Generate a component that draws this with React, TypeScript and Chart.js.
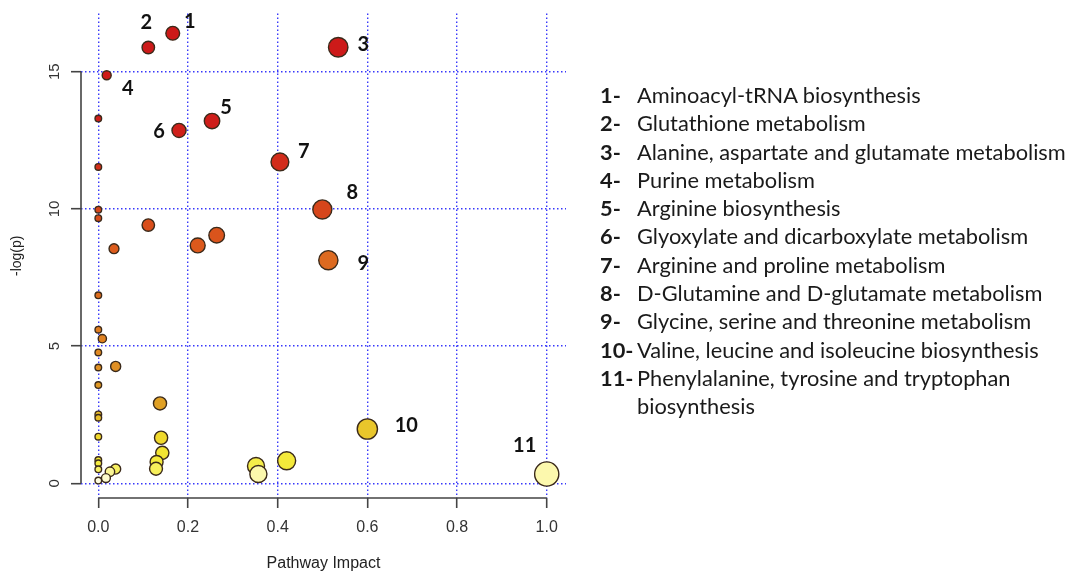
import React, { useEffect, useRef } from 'react';
import { Chart, registerables } from 'chart.js';
Chart.register(...registerables);

// ---- data (descending -log(p); later points drawn on top) ----
const impact = [
  0.166, 0.535, 0.1115, 0.0187, 0.0, 0.2536, 0.18, 0.405, 0.0, 0.4996,
  0.0, 0.0, 0.1115, 0.264, 0.2217, 0.035, 0.513, 0.0, 0.0, 0.009,
  0.0, 0.0387, 0.0, 0.0, 0.1376, 0.0, 0.0, 0.6, 0.0, 0.14,
  0.1427, 0.0, 0.42, 0.13, 0.0, 0.3517, 0.1287, 0.0387, 0.0, 0.026,
  1.0, 0.357, 0.017, 0.0,
];
const negLogP = [
  16.40, 15.89, 15.88, 14.87, 13.29, 13.20, 12.86, 11.71, 11.53, 9.98,
  9.97, 9.66, 9.41, 9.04, 8.67, 8.55, 8.13, 6.85, 5.60, 5.27,
  4.77, 4.26, 4.22, 3.58, 2.91, 2.51, 2.39, 1.98, 1.70, 1.66,
  1.11, 0.85, 0.82, 0.78, 0.73, 0.63, 0.53, 0.52, 0.51, 0.42,
  0.34, 0.34, 0.19, 0.10,
];
const pointLabels = [
  '1', '3', '2', '4', '', '5', '6', '7', '', '8',
  '', '', '', '', '', '', '9', '', '', '',
  '', '', '', '', '', '', '', '10', '', '',
  '', '', '', '', '', '', '', '', '', '',
  '11', '', '', '',
];
const xTicks = [0, 0.2, 0.4, 0.6, 0.8, 1.0];
const yTicks = [0, 5, 10, 15];
const xTitle = 'Pathway Impact';
const yTitle = '-log(p)';
const pathwayNumbers = ['1-', '2-', '3-', '4-', '5-', '6-', '7-', '8-', '9-', '10-', '11-'];
const pathwayNames = [
  'Aminoacyl-tRNA biosynthesis',
  'Glutathione metabolism',
  'Alanine, aspartate and glutamate metabolism',
  'Purine metabolism',
  'Arginine biosynthesis',
  'Glyoxylate and dicarboxylate metabolism',
  'Arginine and proline metabolism',
  'D-Glutamine and D-glutamate metabolism',
  'Glycine, serine and threonine metabolism',
  'Valine, leucine and isoleucine biosynthesis',
  'Phenylalanine, tyrosine and tryptophan biosynthesis',
];

// ---- styling ----
const heatStops: [number, string][] = [
  [0, '#fffff2'], [0.2, '#fdfbcc'], [0.4, '#fbf6a0'], [0.55, '#f6ee50'],
  [0.9, '#f3e833'], [1.7, '#f0d82c'], [2.0, '#e9c52b'], [2.5, '#e8bc2a'],
  [2.9, '#e0a024'], [4.3, '#e09024'], [5.5, '#df7e20'], [6.9, '#de6c1e'],
  [8.2, '#dd6a20'], [8.6, '#dc5a1c'], [10, '#d6461b'], [11.7, '#d22c1a'],
  [13, '#cf1e1a'], [17, '#cc1818'],
];
const labelOffsets: Record<string, [number, number]> = {
  '1': [17, -12], '2': [-2, -25], '3': [25, -3], '4': [21, 13], '5': [14, -14],
  '6': [-20, 1], '7': [24, -10], '8': [30, -17], '9': [35, 3], '10': [39, -3], '11': [-22, -28],
};

function hexToRgb(h: string) {
  return [parseInt(h.slice(1, 3), 16), parseInt(h.slice(3, 5), 16), parseInt(h.slice(5, 7), 16)];
}
function heatColor(v: number) {
  if (v <= heatStops[0][0]) return heatStops[0][1];
  for (let i = 1; i < heatStops.length; i++) {
    if (v <= heatStops[i][0]) {
      const [v0, c0] = heatStops[i - 1];
      const [v1, c1] = heatStops[i];
      const t = (v - v0) / (v1 - v0);
      const a = hexToRgb(c0), b = hexToRgb(c1);
      const m = a.map((x, k) => Math.round(x + (b[k] - x) * t));
      return `rgb(${m[0]},${m[1]},${m[2]})`;
    }
  }
  return heatStops[heatStops.length - 1][1];
}

const AXIS_FONT = "'Liberation Sans', Arial, sans-serif";
const LEG_FONT = "Lato, 'Open Sans', sans-serif";

const overlayPlugin = {
  id: 'overlay',
  afterDraw(chart: any) {
    const ctx = chart.ctx;
    const xs = chart.scales.x;
    const ys = chart.scales.y;
    ctx.save();
    // R-style axis lines spanning first..last tick
    ctx.strokeStyle = '#444';
    ctx.lineWidth = 1.6;
    ctx.beginPath();
    ctx.moveTo(xs.getPixelForValue(xTicks[0]), xs.top);
    ctx.lineTo(xs.getPixelForValue(xTicks[xTicks.length - 1]), xs.top);
    ctx.moveTo(ys.right, ys.getPixelForValue(yTicks[0]));
    ctx.lineTo(ys.right, ys.getPixelForValue(yTicks[yTicks.length - 1]));
    ctx.stroke();
    // point annotations
    const meta = chart.getDatasetMeta(0);
    ctx.font = `bold 20px ${LEG_FONT}`;
    ctx.fillStyle = '#111';
    ctx.textAlign = 'center';
    ctx.textBaseline = 'middle';
    pointLabels.forEach((lab, i) => {
      if (!lab) return;
      const el = meta.data[i];
      const off = labelOffsets[lab] || [0, 0];
      ctx.fillText(lab, el.x + off[0], el.y + off[1]);
    });
    ctx.restore();
  },
};

export default function App() {
  const ref = useRef<HTMLCanvasElement | null>(null);
  useEffect(() => {
    if (!ref.current) return;
    const chart = new Chart(ref.current, {
      type: 'scatter',
      data: {
        datasets: [
          {
            data: impact.map((x, i) => ({ x, y: negLogP[i] })),
            backgroundColor: (c: any) => heatColor(c.raw ? c.raw.y : 0),
            borderColor: '#3b2a1a',
            borderWidth: 1.4,
            pointRadius: (c: any) => 3.3 + 8.8 * Math.sqrt(c.raw ? c.raw.x : 0),
            pointHoverRadius: (c: any) => 3.3 + 8.8 * Math.sqrt(c.raw ? c.raw.x : 0),
          },
        ],
      },
      options: {
        responsive: false,
        animation: false,
        devicePixelRatio: 1,
        layout: { padding: { left: 0, top: 13, right: 503, bottom: 0 } },
        plugins: { legend: { display: false }, tooltip: { enabled: false } },
        scales: {
          x: {
            type: 'linear',
            min: -0.0386,
            max: 1.043,
            afterBuildTicks: (s: any) => { s.ticks = xTicks.map((v) => ({ value: v })); },
            afterFit: (s: any) => { s.height = 74; s.paddingLeft = 0; s.paddingRight = 0; },
            border: { display: false, dash: [1.5, 2.5] },
            grid: {
              color: 'rgba(45,45,250,0.95)',
              lineWidth: 1.4,
              tickColor: '#444',
              tickWidth: 1.6,
              tickLength: 10,
              tickBorderDash: [],
            },
            ticks: {
              color: '#333',
              padding: 10,
              font: { family: AXIS_FONT, size: 16 },
              callback: (v: any) => Number(v).toFixed(1),
              maxRotation: 0,
              minRotation: 0,
            },
            title: {
              display: true,
              text: xTitle,
              color: '#222',
              font: { family: AXIS_FONT, size: 16, lineHeight: 1.1 },
              padding: { top: 0, bottom: 0 },
            },
          },
          y: {
            type: 'linear',
            min: -0.535,
            max: 17.12,
            afterBuildTicks: (s: any) => { s.ticks = yTicks.map((v) => ({ value: v })); },
            afterFit: (s: any) => { s.width = 81; s.paddingTop = 0; s.paddingBottom = 0; },
            border: { display: false, dash: [1.5, 2.5] },
            grid: {
              color: 'rgba(45,45,250,0.95)',
              lineWidth: 1.4,
              tickColor: '#444',
              tickWidth: 1.6,
              tickLength: 10,
              tickBorderDash: [],
            },
            ticks: {
              color: '#333',
              padding: 8,
              crossAlign: 'center',
              minRotation: 90,
              maxRotation: 90,
              font: { family: AXIS_FONT, size: 15 },
              callback: (v: any) => String(v),
            },
            title: {
              display: true,
              text: yTitle,
              color: '#222',
              font: { family: AXIS_FONT, size: 14, lineHeight: 1.2 },
              padding: { top: 9, bottom: 0 },
            },
          },
        },
      },
      plugins: [overlayPlugin],
    } as any);
    return () => chart.destroy();
  }, []);

  return (
    <div style={{ position: 'absolute', left: 0, top: 0, width: 1069, height: 572, background: '#fff' }}>
      <canvas ref={ref} width={1069} height={572} style={{ position: 'absolute', left: 0, top: 0 }} />
      <div style={{ position: 'absolute', left: 600, top: 81, fontFamily: LEG_FONT, fontSize: 21.8, lineHeight: '28.3px', color: '#1a1a1a', whiteSpace: 'nowrap' }}>
        {pathwayNames.map((name, i) => (
          <div key={i} style={{ display: 'flex', alignItems: 'flex-start' }}>
            <span style={{ width: 37, fontWeight: 700, flex: '0 0 37px' }}>{pathwayNumbers[i]}</span>
            <span style={{ width: 432, whiteSpace: 'normal' }}>{name}</span>
          </div>
        ))}
      </div>
    </div>
  );
}
